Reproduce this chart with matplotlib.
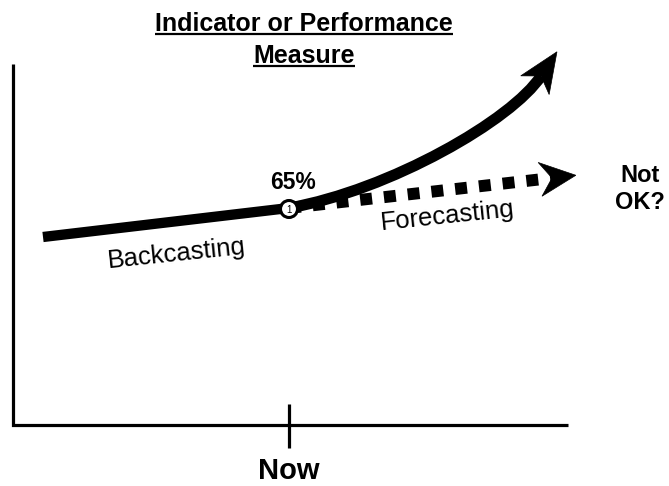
import numpy as np
import matplotlib
matplotlib.use("Agg")
import matplotlib.pyplot as plt
from matplotlib.path import Path
from matplotlib.patches import PathPatch, Polygon, Circle

plt.rcParams['font.family'] = ['Liberation Sans', 'DejaVu Sans']

# diagram coordinates (pixel-like units, y grows downward)
axis_x = [13, 13, 568]
axis_y = [64, 425, 425]
now_x = 289
now_tick = [404, 448]

back_x = [43, 289]          # backcasting line
back_y = [237, 208]
curve_x = [289, 390, 512, 541]   # cubic bezier, forecast "up" curve
curve_y = [208, 190, 120, 76]
dash_x = [289, 552]         # flat forecast (dashed)
dash_y = [208, 178]

title_lines = ["Indicator or Performance", "Measure"]
value_label = "65%"


def head(ax, x0, y0, dx, dy, length, half, notch):
    # notched arrow head, base (notch) at x0,y0, pointing along dx,dy
    d = np.array([dx, dy], float)
    d /= np.hypot(*d)
    n = np.array([-d[1], d[0]])
    notch_pt = np.array([x0, y0])
    tip = notch_pt + (length - notch) * d
    base = tip - length * d
    pts = [tip, base + half * n, notch_pt, base - half * n]
    ax.add_patch(Polygon(pts, closed=True, fc='black', ec='black', lw=0.5, zorder=3))


fig = plt.figure(figsize=(6.69, 4.86), dpi=100)
ax = fig.add_axes([0, 0, 1, 1])
ax.set_xlim(0, 669)
ax.set_ylim(486, 0)
ax.axis('off')

# axes
ax.plot(axis_x, axis_y, color='black', lw=2.3, solid_joinstyle='miter', solid_capstyle='butt')
ax.plot([now_x, now_x], now_tick, color='black', lw=2.3, solid_capstyle='butt')

# dashed forecast
ax.plot(dash_x, dash_y, color='black', lw=8.6, linestyle=(0, (1, 1)), dash_capstyle='butt', zorder=1)
head(ax, dash_x[1], dash_y[1], dash_x[1] - dash_x[0], dash_y[1] - dash_y[0], 36, 17, 12)

# backcasting line
ax.plot(back_x, back_y, color='black', lw=7.4, solid_capstyle='butt', zorder=2)

# upward curve
verts = list(zip(curve_x, curve_y))
path = Path(verts, [Path.MOVETO, Path.CURVE4, Path.CURVE4, Path.CURVE4])
ax.add_patch(PathPatch(path, fc='none', ec='black', lw=8.0, capstyle='butt', zorder=2))
head(ax, curve_x[3], curve_y[3], curve_x[3] - curve_x[2], curve_y[3] - curve_y[2], 40, 17, 11)

# "now" point
ax.add_patch(Circle((now_x, back_y[1] + 1), 8.5, fc='white', ec='black', lw=2.2, zorder=4))
ax.text(now_x, back_y[1] + 1.5, "1", fontsize=7, ha='center', va='center', zorder=5)

# texts
ax.text(293, 189, value_label, fontsize=16.5, fontweight='bold', ha='center', va='baseline')
ax.text(640, 182, "Not", fontsize=17, fontweight='bold', ha='center', va='baseline')
ax.text(640, 209, "OK?", fontsize=17, fontweight='bold', ha='center', va='baseline')
ax.text(now_x, 479, "Now", fontsize=21, fontweight='bold', ha='center', va='baseline')
ax.text(177, 254, "Backcasting", fontsize=18.5, ha='center', va='center', rotation=6)
ax.text(448, 216, "Forecasting", fontsize=18.5, ha='center', va='center', rotation=6)

titles = [ax.text(304, 31, title_lines[0], fontsize=18, fontweight='bold', ha='center', va='baseline'),
          ax.text(304, 63, title_lines[1], fontsize=18, fontweight='bold', ha='center', va='baseline')]

# underline the title lines
fig.canvas.draw()
inv = ax.transData.inverted()
for t, yb in zip(titles, [31, 63]):
    bb = t.get_window_extent()
    (xa, _), (xb, _) = inv.transform([[bb.x0, bb.y0], [bb.x1, bb.y1]])
    ax.plot([xa, xb], [yb + 3, yb + 3], color='black', lw=1.6, solid_capstyle='butt')

fig.savefig("out.png", dpi=100)
